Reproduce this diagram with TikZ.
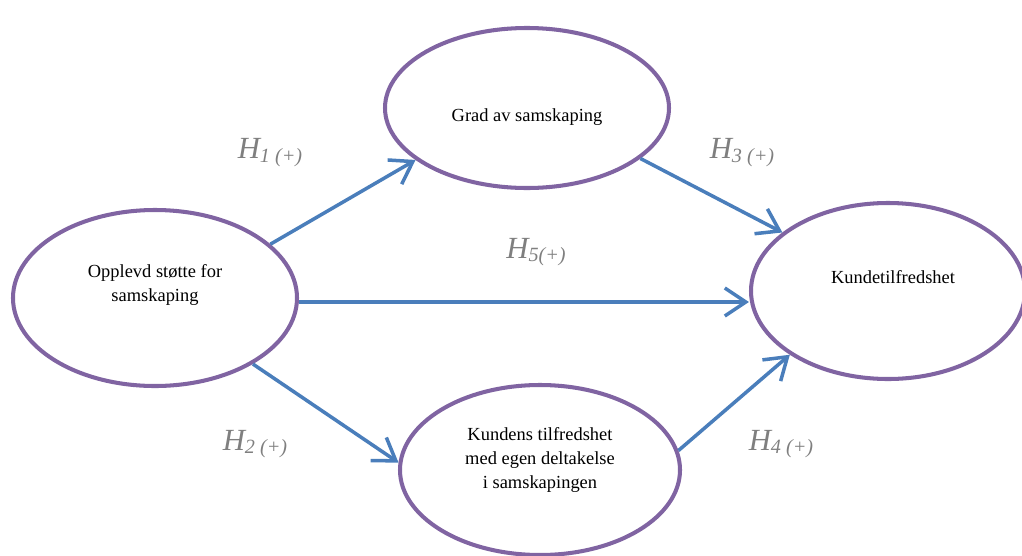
\documentclass[tikz,border=0pt]{standalone}
\usepackage{fontspec}
\setmainfont{Liberation Serif}
\usetikzlibrary{arrows.meta, shapes.geometric}
\definecolor{konstrukt}{HTML}{8064A2}
\definecolor{pil}{HTML}{4A7EBB}
\definecolor{hypgraa}{HTML}{7F7F7F}
\newcommand{\hyp}[1]{\textit{H\raisebox{-0.25ex}{\fontsize{11.5}{13}\selectfont #1}}}

\begin{document}
\begin{tikzpicture}[
        font=\fontsize{10.5}{13.5}\selectfont,
        konstr/.style={ellipse, draw=konstrukt, line width=2.3pt, inner sep=0pt},
        txt/.style={align=center},
        sti/.style={-{Straight Barb[length=0.42cm, width=0.56cm]}, draw=pil, line width=2pt},
        hlab/.style={text=hypgraa, font=\fontsize{17.5}{20}\selectfont}
    ]
    \useasboundingbox (0,0) rectangle (20.44,11.1);

    % Konstrukter
    \node[konstr, minimum width=5.68cm, minimum height=3.52cm] (stotte) at (3.10, 5.14) {};
    \node[konstr, minimum width=5.68cm, minimum height=3.20cm] (grad) at (10.54, 8.94) {};
    \node[konstr, minimum width=5.48cm, minimum height=3.52cm] (tilfreds) at (17.76, 5.28) {};
    \node[konstr, minimum width=5.60cm, minimum height=3.40cm] (deltak) at (10.80, 1.70) {};

    % Tekst
    \node[txt] (tStotte) at (3.10, 5.40) {Opplevd støtte for\\samskaping};
    \node[txt] (tGrad) at (10.54, 8.76) {Grad av samskaping};
    \node[txt] (tTilfreds) at (17.86, 5.56) {Kundetilfredshet};
    \node[txt] (tDeltak) at (10.80, 1.90) {Kundens tilfredshet\\med egen deltakelse\\i samskapingen};

    % Hypoteser
    \draw[sti] (stotte.25) -- (grad.205);
    \draw[sti] (stotte.-34) -- (deltak.177);
    \draw[sti] ([yshift=-0.08cm]stotte.east) -- ([yshift=-0.08cm]stotte.east -| tilfreds.west);
    \draw[sti] (grad.-24) -- (tilfreds.151);
    \draw[sti] (deltak.8) -- (tilfreds.213);

    \node[hlab] (h1) at (5.40, 8.05) {\hyp{1 (+)}};
    \node[hlab] (h2) at (5.10, 2.22) {\hyp{2 (+)}};
    \node[hlab] (h3) at (14.84, 8.05) {\hyp{3 (+)}};
    \node[hlab] (h4) at (15.62, 2.22) {\hyp{4 (+)}};
    \node[hlab] (h5) at (10.72, 6.06) {\hyp{5(+)}};

\end{tikzpicture}
\end{document}
